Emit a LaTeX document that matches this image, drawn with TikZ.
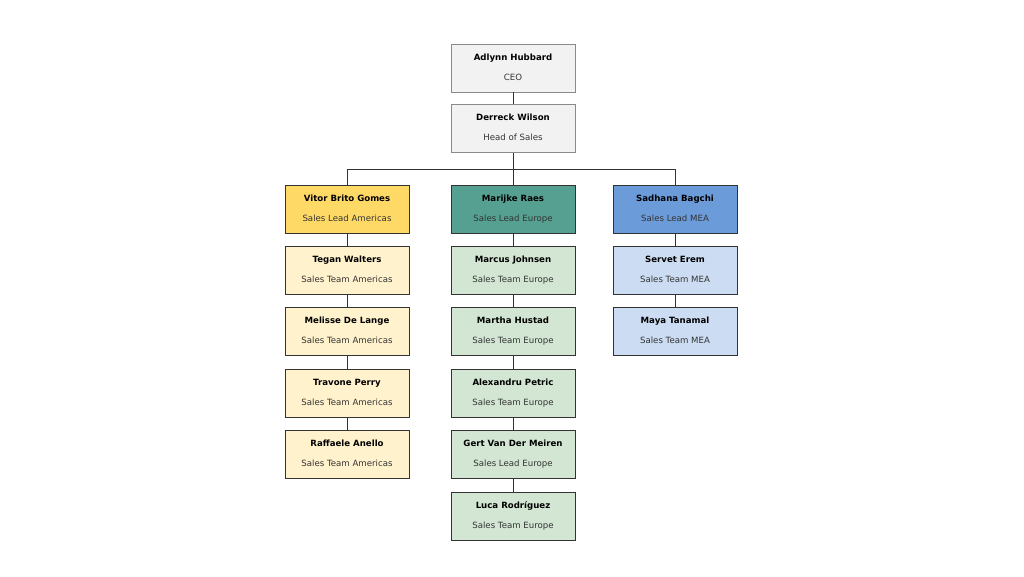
\documentclass[tikz,border=0pt]{standalone}
\usepackage{fontspec}
\setmainfont{DejaVu Sans}
\usepackage{tikz}
\usetikzlibrary{positioning}

\definecolor{greyfill}{HTML}{F2F2F2}
\definecolor{greyline}{HTML}{8A8A8A}
\definecolor{amlead}{HTML}{FFD966}
\definecolor{amteam}{HTML}{FFF2CC}
\definecolor{eulead}{HTML}{55A090}
\definecolor{euteam}{HTML}{D2E6D3}
\definecolor{mealead}{HTML}{6C9BDA}
\definecolor{meateam}{HTML}{CCDCF2}
\definecolor{boxline}{HTML}{333333}

% name and role, two lines
\newcommand{\entry}[2]{\textbf{#1}\strut\\[10pt]\textcolor{boxline}{#2}\strut}

\begin{document}
\begin{tikzpicture}[
  x=1pt, y=1pt,
  node distance=12.5pt,
	person/.style={
	draw=boxline,
	line width=0.9pt,
	rectangle,
	align=center,
	inner sep=0pt,
	minimum width=124pt,
	minimum height=48pt,
	font=\fontsize{8.6}{10}\selectfont},
	top/.style={
	person,
	draw=greyline,
	fill=greyfill},
	link/.style={
	draw=boxline,
	line width=0.9pt}]

	% Frame
	\useasboundingbox (0,0) rectangle (1024,-576);

	% Top
	\node [top] at (513,-68)           (ceo)  {\entry{Adlynn Hubbard}{CEO}};
	\node [top, below=12pt of ceo]     (head) {\entry{Derreck Wilson}{Head of Sales}};

	% Americas
	\node [person, fill=amlead] at (347,-209) (am0) {\entry{Vitor Brito Gomes}{Sales Lead Americas}};
	\node [person, fill=amteam, below=of am0] (am1) {\entry{Tegan Walters}{Sales Team Americas}};
	\node [person, fill=amteam, below=of am1] (am2) {\entry{Melisse De Lange}{Sales Team Americas}};
	\node [person, fill=amteam, below=of am2] (am3) {\entry{Travone Perry}{Sales Team Americas}};
	\node [person, fill=amteam, below=of am3] (am4) {\entry{Raffaele Anello}{Sales Team Americas}};

	% Europe
	\node [person, fill=eulead] at (513,-209) (eu0) {\entry{Marijke Raes}{Sales Lead Europe}};
	\node [person, fill=euteam, below=of eu0] (eu1) {\entry{Marcus Johnsen}{Sales Team Europe}};
	\node [person, fill=euteam, below=of eu1] (eu2) {\entry{Martha Hustad}{Sales Team Europe}};
	\node [person, fill=euteam, below=of eu2] (eu3) {\entry{Alexandru Petric}{Sales Team Europe}};
	\node [person, fill=euteam, below=of eu3] (eu4) {\entry{Gert Van Der Meiren}{Sales Lead Europe}};
	\node [person, fill=euteam, below=of eu4] (eu5) {\entry{Luca Rodríguez}{Sales Team Europe}};

	% MEA
	\node [person, fill=mealead] at (675,-209) (mea0) {\entry{Sadhana Bagchi}{Sales Lead MEA}};
	\node [person, fill=meateam, below=of mea0] (mea1) {\entry{Servet Erem}{Sales Team MEA}};
	\node [person, fill=meateam, below=of mea1] (mea2) {\entry{Maya Tanamal}{Sales Team MEA}};

	% Lines
	\coordinate (bus) at (513,-169);
	\draw[link] (ceo) -- (head);
	\draw[link] (head) -- (bus) -| (am0);
	\draw[link] (bus) -| (mea0);
	\draw[link] (bus) -- (eu0);

	\foreach \a/\b in {am0/am1, am1/am2, am2/am3, am3/am4,
	  eu0/eu1, eu1/eu2, eu2/eu3, eu3/eu4, eu4/eu5, mea0/mea1, mea1/mea2}
	  \draw[link] (\a) -- (\b);

\end{tikzpicture}
\end{document}
